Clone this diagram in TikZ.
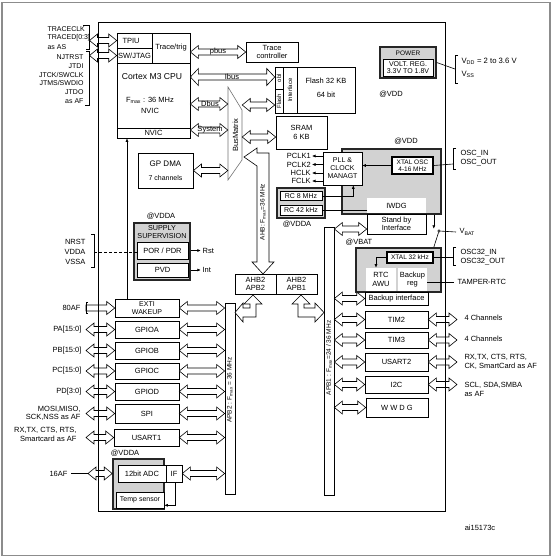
\documentclass[tikz,border=0pt]{standalone}
\usepackage{fontspec}
\setmainfont{Liberation Sans}
\usetikzlibrary{calc,arrows.meta}
\newcommand\bxc[7][]{\node[bx,minimum width={(#5-#3)*1pt},minimum height={(#6-#4)*1pt},#1] (#2) at ({(#3+#5)/2},{(#4+#6)/2}) {#7};}
\def\hL{8pt}\def\hH{6.5pt}\def\hS{3pt}
\newcommand\hda[3][]{\path[hollow,#1] let \p1=#2, \p2=#3 in (\x1,\y1) -- (\x1+\hL,\y1+\hH) -- (\x1+\hL,\y1+\hS) -- (\x2-\hL,\y1+\hS) -- (\x2-\hL,\y1+\hH) -- (\x2,\y1) -- (\x2-\hL,\y1-\hH) -- (\x2-\hL,\y1-\hS) -- (\x1+\hL,\y1-\hS) -- (\x1+\hL,\y1-\hH) -- cycle;}
\newcommand\hra[3][]{\path[hollow,#1] let \p1=#2, \p2=#3 in (\x1,\y1+\hS) -- (\x2-\hL,\y1+\hS) -- (\x2-\hL,\y1+\hH) -- (\x2,\y1) -- (\x2-\hL,\y1-\hH) -- (\x2-\hL,\y1-\hS) -- (\x1,\y1-\hS) -- cycle;}
\tikzset{
  bx/.style={draw, fill=white, line width=0.6pt, inner sep=0pt, align=center},
  gbx/.style={draw=black!85, line width=1.6pt, fill=gray!35},
  hollow/.style={draw, fill=white, line width=0.6pt, line join=miter},
  thin/.style={line width=0.6pt},
  tip/.style={-{Latex[length=3.5pt,width=3pt]}},
  f6/.style={font=\fontsize{6}{6.6}\selectfont},
  f65/.style={font=\fontsize{6.5}{7.3}\selectfont},
  f7/.style={font=\fontsize{7}{8}\selectfont},
  f8/.style={font=\fontsize{8}{9}\selectfont},
  f85/.style={font=\fontsize{8.6}{9.6}\selectfont},
}
\begin{document}
\begin{tikzpicture}[x=1pt,y=-1pt,font=\fontsize{7.5}{8.5}\selectfont]
\useasboundingbox (0,0) rectangle (553,558);
\node[draw=black!45, line width=1.2pt, minimum width=548pt, minimum height=553pt, inner sep=0] (frame) at (276,279) {};
\node[inner sep=0, minimum width=346pt, minimum height=488pt] (chip) at (272,267) {};
% helper coordinates
\coordinate (ibusy) at (0,77);
\coordinate (dbusy) at (0,104);
\coordinate (sysy) at (0,130);
\coordinate (flay) at (0,105);
\coordinate (sray) at (0,137);
\coordinate (sbyy) at (0,229);
\coordinate (pinx) at (86,0);
\coordinate (trx) at (89.5,0);
\coordinate (outx) at (457,0);
\coordinate (nvx) at (127,0);
% ---------------- CPU
\bxc[line width=0.8pt]{cpu}{117}{33}{190}{138}{}
\bxc{tpiu}{117}{33}{152}{48}{}
\node[anchor=west] (tpiut) at (119,40.5) {TPIU};
\bxc{swj}{117}{48}{152}{63}{SW/JTAG}
\bxc{trig}{152}{33}{190}{63}{Trace/trig}
\bxc{nvic}{117}{128}{190}{138}{NVIC}
\node[f85] (cput) at (152,77) {Cortex M3 CPU};
\node (fmax) at (150,100) {F\textsubscript{max} : 36 MHz};
\node (nvict) at (150,111) {NVIC};
% ---------------- trace controller, flash, sram
\bxc{tracec}{246}{42}{298}{62}{Trace\\controller}
\bxc{flash}{275}{67}{355}{113}{}
\bxc{obl}{275}{67}{283}{89}{}
\node[f6,rotate=90] (oblt) at (279,78) {obl};
\bxc{flf}{275}{89}{283}{113}{}
\node[f6,rotate=90] (flft) at (279,101) {Flash};
\bxc{flif}{283}{67}{297}{113}{}
\node[f6,rotate=90] (fliftt) at (290,90) {Interface};
\node (flt1) at (326,81) {Flash 32 KB};
\node (flt2) at (326,95) {64 bit};
\bxc{sram}{276}{116}{327}{149}{SRAM\\6 KB}
% ---------------- bus matrix
\node[inner sep=0, minimum width=14pt, minimum height=93pt] (bm) at (235,133.5) {};
\draw[black!55, fill=white, line width=0.6pt] (228,87) -- (242,110) -- (242,160) -- (228,180) -- cycle;
\node[rotate=90] (bmt) at (235.5,135) {BusMatrix};
% ---------------- DMA
\bxc[line width=0.9pt]{dma}{138}{153}{193}{188}{}
\node[f8] (dmat1) at (165.5,164) {GP DMA};
\node[f7] (dmat2) at (165.5,178) {7 channels};
% ---------------- bus arrows
\hda{(cpu.east |- tracec.west)}{(tracec.west)}
\node (pbus) at (218,51.5) {pbus};
{\def\hH{8.5pt}\hda{(cpu.east |- ibusy)}{(flash.west |- ibusy)}}
\node (ibus) at (232,76.5) {Ibus};
\hda{(cpu.east |- dbusy)}{(bm.west |- dbusy)}
\node (dbus) at (210,104) {Dbus};
\hda{(cpu.east |- sysy)}{(bm.west |- sysy)}
\node (sys) at (210,130) {System};
\hda{(dma.east)}{(bm.west |- dma.east)}
\hda{(bm.east |- flay)}{(flash.west |- flay)}
\hda{(bm.east |- sray)}{(sram.west |- sray)}
% ---------------- AHB arrow
\path[hollow] (244,157) -- (257,148) -- (257,153) -- (269,153) -- (269,262) -- (274,262) -- (263,274) -- (252,262) -- (257,262) -- (257,166) -- cycle;
\node[f65,rotate=90] (ahbt) at (263,212) {AHB: F\textsubscript{max}=36 MHz};
% ---------------- AHB2 bridges
\bxc{br2}{235}{274}{276}{294}{AHB2\\APB2}
\bxc{br1}{276}{274}{317}{294}{AHB2\\APB1}
% ---------------- APB bars
\bxc[line width=0.8pt]{apb2}{225}{303}{235}{494}{}
\node[f65,rotate=90] (apb2t) at (230,390) {APB2 : F\textsubscript{max} = 36 MHz};
\bxc[line width=0.8pt]{apb1}{324}{227}{334}{495}{}
\node[f65,rotate=90] (apb1t) at (329,358) {APB1 : F\textsubscript{max}=24 / 36 MHz};
\path[hollow] (253,295) -- (262,304) -- (256,304) -- (256,317) -- (243,317) -- (243,322) -- (235,312.5) -- (243,303) -- (243,308) -- (250,308) -- (250,304) -- (244,304) -- cycle;
\path[hollow] (301,295) -- (310,304) -- (304,304) -- (304,308) -- (315,308) -- (315,303) -- (324,312.5) -- (315,322) -- (315,317) -- (298,317) -- (298,304) -- (292,304) -- cycle;
% ---------------- power
\bxc[gbx,line width=1.4pt]{power}{380}{47}{436}{78}{}
\node[f65] (powt) at (408,53) {POWER};
\bxc[font=\fontsize{7}{7.6}\selectfont]{vreg}{383}{59.5}{433}{76}{VOLT. REG.\\3.3V TO 1.8V}
\draw[thin] (power.east) -- (455,69);
\draw[thin] (458,55) -- (455,55) -- (455,83) -- (458,83);
\node[anchor=west,font=\fontsize{7.7}{9}\selectfont] (vdd) at (458,61) {V\textsubscript{DD} = 2 to 3.6 V};
\node[anchor=west,font=\fontsize{7.7}{9}\selectfont] (vss) at (458,74) {V\textsubscript{SS}};
\node (vddl1) at (391,94) {@VDD};
% ---------------- clock domain
\node (vddl2) at (406,141) {@VDD};
\bxc[gbx]{clkd}{342}{149}{441}{214}{}
\bxc[draw=none]{iwdg}{367}{198}{426}{213}{IWDG}
\bxc{stby}{367}{214}{426}{234}{Stand by\\Interface}
\bxc[f7]{pll}{323}{152}{362}{185}{PLL \&\\CLOCK\\MANAGT}
\bxc[line width=1.5pt,f65]{xosc}{392}{157}{433}{174}{XTAL OSC\\4-16 MHz}
\draw[thin,tip] (xosc.west) -- (pll.east |- xosc.west);
\draw[thin] (xosc.east) -- (453,164);
\draw[thin] (456,148) -- (453,148) -- (453,169) -- (456,169);
\node[anchor=west] (oscin) at (457,154) {OSC\_IN};
\node[anchor=west] (oscout) at (457,163) {OSC\_OUT};
\draw[thin,tip] (pll.west |- 0,156) -- (312,156) node[anchor=east,inner sep=1pt] (pclk1) {PCLK1};
\draw[thin,tip] (pll.west |- 0,164.5) -- (312,164.5) node[anchor=east,inner sep=1pt] (pclk2) {PCLK2};
\draw[thin,tip] (pll.west |- 0,173) -- (312,173) node[anchor=east,inner sep=1pt] (hclk) {HCLK};
\draw[thin,tip] (pll.west |- 0,181) -- (312,181) node[anchor=east,inner sep=1pt] (fclk) {FCLK};
\bxc[gbx]{rcg}{277}{188}{325}{218}{}
\bxc[f7]{rc8}{280}{191.5}{322}{200.5}{RC 8 MHz}
\bxc[f7]{rc42}{280}{205.5}{322}{215}{RC 42 kHz}
\draw[thin,tip] (rc8.east) -| ([xshift=-9pt]pll.south east);
\draw[thin] (rc42.east) -- (iwdg.west |- rc42.east);
\node (vddal1) at (297,224) {@VDDA};
\hda{(apb1.east |- sbyy)}{(stby.west |- sbyy)}
% ---------------- VBAT / RTC
\node (vbatl) at (359,242) {@VBAT};
\draw[thin,tip] ([xshift=-8pt]clkd.south east) -- ++(0,14);
\node[draw,circle,inner sep=0,minimum size=2.5pt,fill=white] (vsw) at (439,231) {};
\node[anchor=west] (vbat) at (456,232) {V\textsubscript{BAT}};
\draw[thin] (vsw) -- (vbat.west);
\bxc[gbx]{rtcg}{356}{248}{441}{292}{}
\draw[thin] ([xshift=-8pt]rtcg.north east) -- (vsw);
\bxc[line width=1.5pt,f65]{x32}{387}{252}{433}{263}{XTAL 32 kHz}
\draw[thin] (x32.east) -- (453,257.5);
\draw[thin] (456,247) -- (453,247) -- (453,265) -- (456,265);
\node[anchor=west] (o32in) at (457,253) {OSC32\_IN};
\node[anchor=west] (o32out) at (457,262) {OSC32\_OUT};
\bxc[draw=none]{rtc}{366}{268}{396}{291}{RTC\\AWU}
\bxc[draw=none]{bkreg}{398}{268}{427}{291}{Backup\\reg}
\draw[thin,tip] (x32.west) -| ([xshift=-5pt]rtc.north);
\node[anchor=west] (tamper) at (454,282) {TAMPER-RTC};
\draw[thin] (bkreg.east |- tamper.west) -- (tamper.west);
\bxc{bkif}{365}{292}{428}{305}{Backup interface}
\hda{(apb1.east |- bkif.west)}{(bkif.west)}
% ---------------- APB1 peripherals
\bxc{tim2}{365}{311}{428}{328}{TIM2}
\bxc{tim3}{365}{332}{428}{348}{TIM3}
\bxc{usart2}{365}{353}{428}{371}{USART2}
\bxc{i2c}{365}{376}{428}{393}{I2C}
\bxc{wwdg}{366}{398}{428}{417}{W W D G}
\foreach \nm in {tim2,tim3,usart2,i2c,wwdg} {\hda{(apb1.east |- \nm.west)}{(\nm.west)}}
\foreach \nm in {tim2,tim3,usart2,i2c} {\hda{(\nm.east)}{(\nm.east -| outx)}}
\node[anchor=west] (ch2) at (461,318) {4 Channels};
\node[anchor=west] (ch3) at (461,339) {4 Channels};
\node[anchor=west,align=left] (u2t) at (461,362) {RX,TX, CTS, RTS,\\CK, SmartCard as AF};
\node[anchor=west,align=left] (i2ct) at (461,389.5) {SCL, SDA,SMBA\\as AF};
% ---------------- supply supervision
\node (vddal2) at (161,216) {@VDDA};
\bxc[gbx]{supv}{134}{223}{190}{280}{}
\node[font=\fontsize{7.2}{7.8}\selectfont,align=center] (supt) at (162,232) {SUPPLY\\[-0.5pt]SUPERVISION};
\bxc{por}{137}{242}{188}{259}{POR / PDR}
\bxc{pvd}{137}{263}{188}{277}{PVD}
\draw[thin,tip] (supv.east |- por.east) -- ++(10,0) node[anchor=west,inner sep=1.5pt] (rst) {Rst};
\draw[thin,tip] (supv.east |- pvd.east) -- ++(10,0) node[anchor=west,inner sep=1.5pt] (int) {Int};
\node[anchor=east] (nrst) at (89,242) {NRST};
\node[anchor=east] (vddap) at (89,252) {VDDA};
\node[anchor=east] (vssa) at (89,262) {VSSA};
\draw[thin] (91,234) -- (94,234) -- (94,267) -- (91,267);
\draw[thin,densely dashed] (94,252) -- (por.west |- 94,252);
% ---------------- APB2 peripherals
\bxc[f7]{exti}{115}{299}{179}{317}{EXTI\\WAKEUP}
\bxc{gpioa}{115}{321}{179}{338}{GPIOA}
\bxc{gpiob}{115}{342}{179}{359}{GPIOB}
\bxc{gpioc}{115}{363}{179}{379}{GPIOC}
\bxc{gpiod}{115}{383}{179}{400}{GPIOD}
\bxc{spi}{115}{404}{179}{423}{SPI}
\bxc{usart1}{114}{429}{179}{446}{USART1}
\foreach \nm in {exti,gpioa,gpiob,gpioc,gpiod,spi,usart1} {\hda{(\nm.east)}{(apb2.west |- \nm.east)}}
\foreach \nm in {gpioa,gpiob,gpioc,gpiod,spi,usart1} {\hda{(pinx |- \nm.west)}{(\nm.west)}}
\hra{(pinx |- exti.west)}{(exti.west)}
\draw[thin] (88,302) -- (86,302) -- (86,313) -- (88,313);
\node[anchor=east] (af80) at (84,307.5) {80AF};
\node[anchor=east] (pa) at (85,329.5) {PA[15:0]};
\node[anchor=east] (pb) at (85,350.5) {PB[15:0]};
\node[anchor=east] (pc) at (85,371) {PC[15:0]};
\node[anchor=east] (pd) at (85,391.5) {PD[3:0]};
\node[anchor=east,align=right] (spit) at (84,413.5) {MOSI,MISO,\\SCK,NSS as AF};
\node[anchor=east,align=right] (u1t) at (80,434.5) {RX,TX, CTS, RTS,\\Smartcard as AF};
\draw[thin,tip] (nvx |- exti.north) -- (nvx |- nvic.south);
% ---------------- ADC
\node (vddal3) at (125,453) {@VDDA};
\bxc[gbx]{adcg}{113}{459}{164}{509}{}
\bxc{adc}{118}{465}{166}{482}{12bit ADC}
\bxc{if}{166}{465}{182}{482}{IF}
\bxc[f7]{temp}{116}{492}{164}{508}{Temp sensor}
\draw[thin,tip] ([xshift=1pt]if.south) |- ([yshift=3pt]temp.south east);
\hda{(if.east)}{(apb2.west |- if.east)}
\node[anchor=east] (af16) at (71,473.5) {16AF};
\draw[thin] (af16.east) -- (88,473.5);
\hda{(88,473.5)}{(adcg.west |- 88,473.5)}
% ---------------- top-left pins
\node[anchor=west,f7] (tclk) at (44,29) {TRACECLK};
\node[anchor=west,f7] (tdat) at (44,38) {TRACED[0:3]};
\node[anchor=west,f7] (tas) at (44,47) {as AS};
\draw[thin] (83,25) -- (89,25) -- (89,49) -- (86,49);
\node[anchor=east,f7] (njt) at (87,57) {NJTRST};
\node[anchor=east,f7] (jtdi) at (87,65.8) {JTDI};
\node[anchor=east,f7] (jtck) at (87,74.6) {JTCK/SWCLK};
\node[anchor=east,f7] (jtms) at (87,83.4) {JTMS/SWDIO};
\node[anchor=east,f7] (jtdo) at (87,92.2) {JTDO};
\node[anchor=east,f7] (jtas) at (87,101) {as AF};
\draw[thin] (86,51) -- (89,51) -- (89,105) -- (85,105);
\hda{(trx |- tpiu.west)}{(tpiu.west)}
\hda{(trx |- swj.west)}{(swj.west)}
% ---------------- chip outline and id
\draw[line width=1.3pt] (chip.north west) rectangle (chip.south east);
\node (aid) at (480,528) {ai15173c};
\end{tikzpicture}
\end{document}
